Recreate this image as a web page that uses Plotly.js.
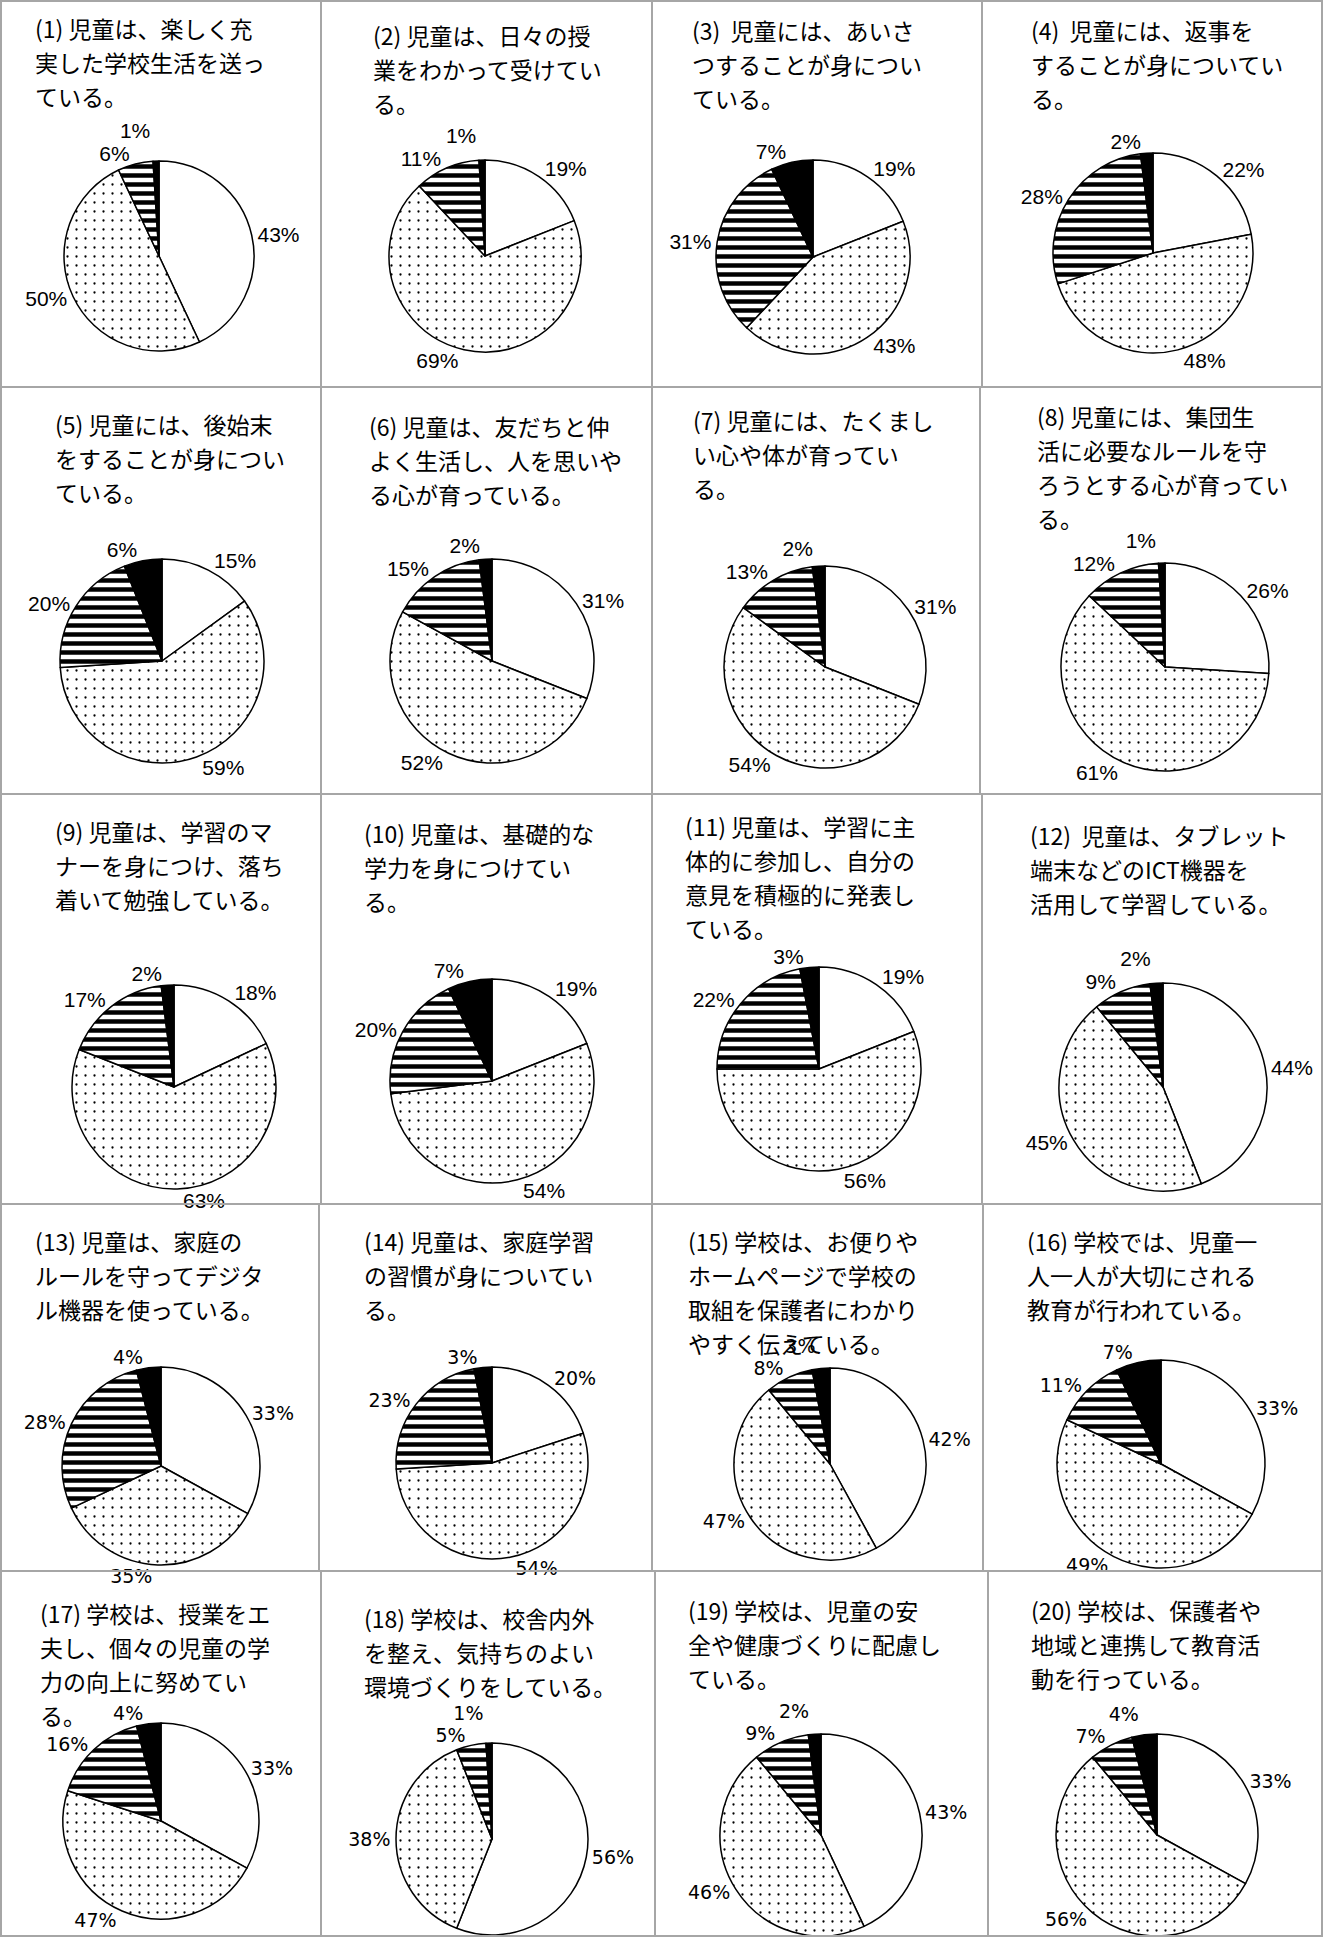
<!DOCTYPE html>
<html>
<head>
<meta charset="utf-8">
<script src="https://cdn.plot.ly/plotly-3.0.1.min.js"></script>
<style>
  html, body { margin: 0; padding: 0; background: #ffffff; }
  #chart { width: 1323px; height: 1937px; }
  #chart path.textline { stroke-opacity: 0 !important; }
</style>
</head>
<body>
<div id="chart"></div>
<script>
// ---------------- DATA ----------------
const categories = ["そう思う", "ややそう思う", "あまりそう思わない", "そう思わない"];

const questionTitles = [
  ["(1) 児童は、楽しく充", "実した学校生活を送っ", "ている。"],
  ["(2) 児童は、日々の授", "業をわかって受けてい", "る。"],
  ["(3)  児童には、あいさ", "つすることが身につい", "ている。"],
  ["(4)  児童には、返事を", "することが身についてい", "る。"],
  ["(5) 児童には、後始末", "をすることが身につい", "ている。"],
  ["(6) 児童は、友だちと仲", "よく生活し、人を思いや", "る心が育っている。"],
  ["(7) 児童には、たくまし", "い心や体が育ってい", "る。"],
  ["(8) 児童には、集団生", "活に必要なルールを守", "ろうとする心が育ってい", "る。"],
  ["(9) 児童は、学習のマ", "ナーを身につけ、落ち", "着いて勉強している。"],
  ["(10) 児童は、基礎的な", "学力を身につけてい", "る。"],
  ["(11) 児童は、学習に主", "体的に参加し、自分の", "意見を積極的に発表し", "ている。"],
  ["(12)  児童は、タブレット", "端末などのICT機器を", "活用して学習している。"],
  ["(13) 児童は、家庭の", "ルールを守ってデジタ", "ル機器を使っている。"],
  ["(14) 児童は、家庭学習", "の習慣が身についてい", "る。"],
  ["(15) 学校は、お便りや", "ホームページで学校の", "取組を保護者にわかり", "やすく伝えている。"],
  ["(16) 学校では、児童一", "人一人が大切にされる", "教育が行われている。"],
  ["(17) 学校は、授業をエ", "夫し、個々の児童の学", "力の向上に努めてい", "る。"],
  ["(18) 学校は、校舎内外", "を整え、気持ちのよい", "環境づくりをしている。"],
  ["(19) 学校は、児童の安", "全や健康づくりに配慮し", "ている。"],
  ["(20) 学校は、保護者や", "地域と連携して教育活", "動を行っている。"]
];

const agree            = [43, 19, 19, 22, 15, 31, 31, 26, 18, 19, 19, 44, 33, 20, 42, 33, 33, 56, 43, 33];
const somewhatAgree    = [50, 69, 43, 48, 59, 52, 54, 61, 63, 54, 56, 45, 35, 54, 47, 49, 47, 38, 46, 56];
const somewhatDisagree = [ 6, 11, 31, 28, 20, 15, 13, 12, 17, 20, 22,  9, 28, 23,  8, 11, 16,  5,  9,  7];
const disagree         = [ 1,  1,  7,  2,  6,  2,  2,  1,  2,  7,  3,  2,  4,  3,  3,  7,  4,  1,  2,  4];

// ---------------- LAYOUT (pixels in a 1323 x 1937 page) ----------------
const W = 1323, H = 1937;
// pie centre x, centre y, radius
const pieBoxes = [
  [159, 256, 95], [485, 256, 96], [813, 257, 97], [1153, 253, 100],
  [162, 661, 102], [492, 661, 102], [825, 667, 101], [1165, 667, 104],
  [174, 1087, 102], [492, 1081, 102], [819, 1069, 102], [1163, 1087, 104],
  [161, 1466, 99], [492, 1463, 96], [830, 1464, 96], [1161, 1464, 104],
  [161, 1821, 98], [492, 1839, 96], [821, 1835, 101], [1157, 1835, 101]
];
// title first-line left x, centre y
const titleAnchors = [
  [33, 28], [371, 35], [690, 30], [1029, 30],
  [53, 424], [367, 426], [691, 420], [1035, 416],
  [53, 831], [362, 833], [683, 826], [1028, 835],
  [33, 1241], [362, 1241], [686, 1241], [1025, 1241],
  [38, 1613], [362, 1618], [686, 1610], [1029, 1610]
];
const lineGap = 34;
const rowLines = [387, 794, 1204, 1571];
const colLinesByRow = [
  [321, 652, 982], [321, 652, 980], [321, 652, 982], [319, 652, 983], [321, 655, 988]
];
const rowEdges = [0, 387, 794, 1204, 1571, H];

const fx = px => px / W;
const fy = py => 1 - py / H;

const traces = [];
const annotations = [];
for (let i = 0; i < 20; i++) {
  const [cx, cy, r] = pieBoxes[i];
  const row = Math.floor(i / 4);
  const labelFont = row < 3
    ? {family: "Liberation Sans, Arial, sans-serif", size: 21, color: "#000"}
    : {family: "DejaVu Sans, Verdana, sans-serif", size: 19, color: "#000"};
  traces.push({
    type: "pie",
    labels: categories,
    values: [agree[i], somewhatAgree[i], somewhatDisagree[i], disagree[i]],
    sort: false,
    direction: "clockwise",
    rotation: 0,
    domain: {x: [fx(cx - r), fx(cx + r)], y: [fy(cy + r), fy(cy - r)]},
    marker: {
      colors: ["#ffffff", "#ffffff", "#ffffff", "#000000"],
      line: {color: "#000000", width: 1.5},
      pattern: {
        shape: ["", ".", "-", ""],
        fgcolor: "#000000",
        size: [9, 9, 9, 9],
        solidity: [0.3, 0.05, 0.5, 0.3]
      }
    },
    textposition: "outside",
    texttemplate: "%{value}%",
    outsidetextfont: labelFont,
    textfont: labelFont,
    hoverinfo: "none",
    showlegend: false
  });
  const [tx, ty] = titleAnchors[i];
  questionTitles[i].forEach((line, k) => {
    annotations.push({
      xref: "paper", yref: "paper",
      x: fx(tx), y: fy(ty + k * lineGap),
      xanchor: "left", yanchor: "middle",
      text: line, showarrow: false,
      font: {family: "Noto Sans CJK JP, sans-serif", size: 23, color: "#000"}
    });
  });
}

const shapes = [];
const gridLine = {color: "#a6a6a6", width: 2};
shapes.push({type: "rect", xref: "paper", yref: "paper", x0: fx(1), x1: fx(W - 1), y0: fy(1), y1: fy(H - 1), line: gridLine});
rowLines.forEach(y => shapes.push({type: "line", xref: "paper", yref: "paper", x0: 0, x1: 1, y0: fy(y), y1: fy(y), line: gridLine}));
colLinesByRow.forEach((cols, r) => {
  cols.forEach(x => shapes.push({
    type: "line", xref: "paper", yref: "paper",
    x0: fx(x), x1: fx(x), y0: fy(rowEdges[r]), y1: fy(rowEdges[r + 1]), line: gridLine
  }));
});

const layout = {
  width: W, height: H,
  margin: {l: 0, r: 0, t: 0, b: 0},
  paper_bgcolor: "#ffffff",
  showlegend: false,
  annotations: annotations,
  shapes: shapes
};

Plotly.newPlot("chart", traces, layout, {staticPlot: true, displayModeBar: false});
</script>
</body>
</html>
